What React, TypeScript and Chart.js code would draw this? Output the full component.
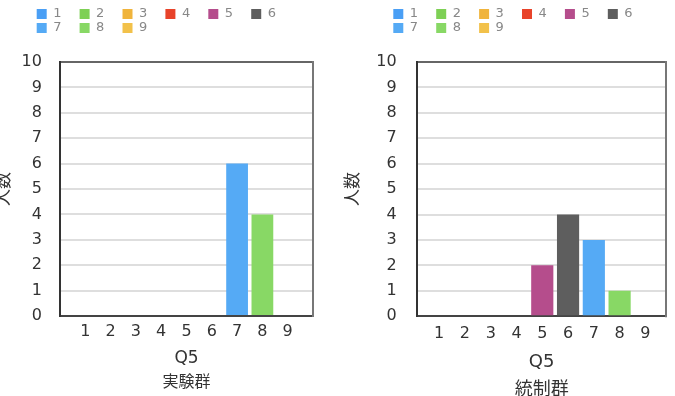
import React, { useEffect, useRef } from "react";
import { Chart, registerables } from "chart.js";

Chart.register(...registerables);

// ---- data ----
const CATEGORIES = ["1", "2", "3", "4", "5", "6", "7", "8", "9"];
const SERIES_COLORS = [
  "#4a9ff5",
  "#7ed055",
  "#f0b43c",
  "#e8432a",
  "#b54d8c",
  "#5e5e5e",
  "#55aaf5",
  "#88d865",
  "#f2c14a",
];
const EXPERIMENTAL_COUNTS = [0, 0, 0, 0, 0, 0, 6, 4, 0];
const CONTROL_COUNTS = [0, 0, 0, 0, 2, 4, 3, 1, 0];
const Y_TICKS = [0, 1, 2, 3, 4, 5, 6, 7, 8, 9, 10];
const X_TITLE = "Q5";
const Y_TITLE = "人数";
const EXPERIMENTAL_TITLE = "実験群";
const CONTROL_TITLE = "統制群";

const FONT = "'DejaVu Sans', 'Noto Sans CJK JP', sans-serif";
const TEXT = "#333333";

const legendPlacer = {
  id: "legendPlacer",
  afterLayout(chart: any, _args: any, opts: any) {
    const lg = chart.legend;
    if (!lg) return;
    const h = lg.height;
    lg.left = opts.x;
    lg.top = opts.y;
    lg.width = opts.width;
    lg.right = opts.x + opts.width;
    lg.bottom = opts.y + h;
  },
};

const frameEdge = {
  id: "frameEdge",
  afterDatasetsDraw(chart: any, _args: any, opts: any) {
    const { ctx, chartArea: a } = chart;
    ctx.save();
    ctx.strokeStyle = opts.color;
    ctx.lineWidth = opts.width;
    ctx.beginPath();
    ctx.moveTo(a.right, a.top - 1);
    ctx.lineTo(a.right, a.bottom + 1);
    ctx.stroke();
    ctx.restore();
  },
};

type Panel = {
  left: number;
  width: number;
  height: number;
  values: number[];
  title: string;
  xMin: number;
  xMax: number;
  padding: { top: number; right: number; bottom: number; left: number };
  yTitlePad: { top: number; bottom: number };
  yTickPad: number;
  xTickPad: number;
  xTitlePad: { top: number; bottom: number };
  xTitleSize: number;
  titlePad: { top: number; bottom: number };
  titleSize: number;
  legendX: number;
};

const PANELS: Panel[] = [
  {
    left: -6,
    width: 343,
    height: 396,
    values: EXPERIMENTAL_COUNTS,
    title: EXPERIMENTAL_TITLE,
    xMin: 0,
    xMax: 10,
    padding: { top: 24, right: 24, bottom: 3.4, left: 0 },
    yTitlePad: { top: 0, bottom: -10.8 },
    yTickPad: 18,
    xTickPad: 6.4,
    xTitlePad: { top: 0.8, bottom: 0 },
    xTitleSize: 17,
    titlePad: { top: 4.2, bottom: 0 },
    titleSize: 16,
    legendX: 41.7,
  },
  {
    left: 337,
    width: 338,
    height: 401,
    values: CONTROL_COUNTS,
    title: CONTROL_TITLE,
    xMin: 0.15,
    xMax: 9.8,
    padding: { top: 24, right: 9, bottom: 0, left: 0 },
    yTitlePad: { top: 6, bottom: -7.7 },
    yTickPad: 20.6,
    xTickPad: 8.1,
    xTitlePad: { top: 0, bottom: 0 },
    xTitleSize: 18,
    titlePad: { top: 6.2, bottom: 0 },
    titleSize: 18,
    legendX: 55.3,
  },
];

function BarPanel({ panel }: { panel: Panel }) {
  const ref = useRef<HTMLCanvasElement | null>(null);

  useEffect(() => {
    if (!ref.current) return;
    const chart = new Chart(ref.current, {
      type: "bar",
      data: {
        datasets: CATEGORIES.map((cat, i) => ({
          label: cat,
          data: [{ x: i + 1, y: panel.values[i] }],
          backgroundColor: SERIES_COLORS[i],
          borderWidth: 0,
          grouped: false,
          barPercentage: 0.86,
          categoryPercentage: 1,
        })),
      },
      options: {
        responsive: false,
        animation: false,
        devicePixelRatio: 1,
        layout: { padding: panel.padding },
        plugins: {
          tooltip: { enabled: false },
          legend: {
            position: "top",
            align: "start",
            labels: {
              boxWidth: 10,
              boxHeight: 10,
              padding: 1,
              color: "#888888",
              font: { family: FONT, size: 13 },
              generateLabels: (chart: any) =>
                chart.data.datasets.map((ds: any, i: number) => ({
                  text: ds.label + "\u2002\u2002 ",
                  fillStyle: ds.backgroundColor,
                  strokeStyle: ds.backgroundColor,
                  lineWidth: 0,
                  hidden: false,
                  datasetIndex: i,
                  fontColor: "#888888",
                })),
            },
          },
          title: {
            display: true,
            text: panel.title,
            position: "bottom",
            fullSize: false,
            color: TEXT,
            font: { family: FONT, size: panel.titleSize, weight: "normal" },
            padding: panel.titlePad,
          },
          legendPlacer: { x: panel.legendX, y: 6.5, width: 280 },
          frameEdge: { color: "#777777", width: 2 },
        } as any,
        scales: {
          x: {
            type: "linear",
            min: panel.xMin,
            max: panel.xMax,
            offset: false,
            afterBuildTicks: (s: any) => {
              s.ticks = CATEGORIES.map((_, i) => ({ value: i + 1 }));
            },
            ticks: {
              autoSkip: false,
              maxRotation: 0,
              padding: panel.xTickPad,
              color: TEXT,
              font: { family: FONT, size: 16 },
              callback: (v: any) => CATEGORIES[Math.round(Number(v)) - 1] ?? "",
            },
            grid: { display: false, drawTicks: false },
            border: { color: "#444444", width: 2 },
            title: {
              display: true,
              text: X_TITLE,
              color: TEXT,
              font: { family: FONT, size: panel.xTitleSize },
              padding: panel.xTitlePad,
            },
          },
          y: {
            min: Y_TICKS[0],
            max: Y_TICKS[Y_TICKS.length - 1],
            afterBuildTicks: (s: any) => {
              s.ticks = Y_TICKS.map((v) => ({ value: v }));
            },
            ticks: {
              padding: panel.yTickPad,
              color: TEXT,
              font: { family: FONT, size: 16 },
            },
            grid: {
              color: (ctx: any) => {
                const v = ctx.tick ? ctx.tick.value : null;
                if (v === Y_TICKS[Y_TICKS.length - 1]) return "#666666";
                if (v === Y_TICKS[0]) return "#444444";
                return "#dedede";
              },
              lineWidth: 2,
              drawTicks: false,
            },
            border: { color: "#333333", width: 2 },
            title: {
              display: true,
              text: Y_TITLE,
              color: TEXT,
              font: { family: FONT, size: 17 },
              padding: panel.yTitlePad,
            },
          },
        },
      } as any,
      plugins: [legendPlacer, frameEdge] as any,
    });
    return () => chart.destroy();
  }, [panel]);

  return (
    <div
      style={{
        position: "absolute",
        left: panel.left,
        top: 0,
        width: panel.width,
        height: panel.height,
      }}
    >
      <canvas ref={ref} width={panel.width} height={panel.height} style={{ display: "block" }} />
    </div>
  );
}

export default function App() {
  return (
    <div
      style={{
        position: "fixed",
        left: 0,
        top: 0,
        width: 675,
        height: 396,
        overflow: "hidden",
        background: "#ffffff",
      }}
    >
      {PANELS.map((p, i) => (
        <BarPanel key={i} panel={p} />
      ))}
    </div>
  );
}
